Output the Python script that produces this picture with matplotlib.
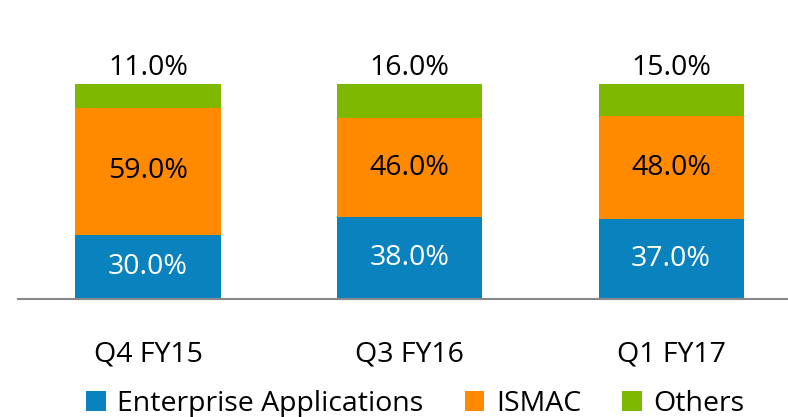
import matplotlib.pyplot as plt

plt.rcParams['font.family'] = ['Open Sans', 'DejaVu Sans']

quarters = ['Q4 FY15', 'Q3 FY16', 'Q1 FY17']
enterprise = [30.0, 38.0, 37.0]
ismac = [59.0, 46.0, 48.0]
others = [11.0, 16.0, 15.0]

blue = '#0a82be'
orange = '#ff8a00'
green = '#7fb800'

fig = plt.figure(figsize=(7.88, 4.17), dpi=100)
ax = fig.add_axes([18 / 788, 118 / 417, 770 / 788, 215 / 417])

x = range(len(quarters))
w = 0.555
b1 = ax.bar(x, enterprise, w, color=blue, label='Enterprise Applications')
b2 = ax.bar(x, ismac, w, bottom=enterprise, color=orange, label='ISMAC')
bottom3 = [a + b for a, b in zip(enterprise, ismac)]
b3 = ax.bar(x, others, w, bottom=bottom3, color=green, label='Others')

fs = 20.5
for i in x:
    ax.text(i, enterprise[i] / 2, f'{enterprise[i]:.1f}%', ha='center', va='center',
            color='white', fontsize=fs)
    ax.text(i, enterprise[i] + ismac[i] / 2, f'{ismac[i]:.1f}%', ha='center', va='center',
            color='black', fontsize=fs)
    ax.text(i, bottom3[i] + others[i] + 0.8, f'{others[i]:.1f}%', ha='center', va='bottom',
            color='black', fontsize=fs, clip_on=False)

ax.set_xlim(-0.497, 2.447)
ax.set_ylim(0, 100)
ax.set_xticks(list(x))
ax.set_xticklabels(quarters, fontsize=fs)
ax.tick_params(axis='x', length=0, pad=30)
ax.set_yticks([])
for s in ['top', 'right', 'left']:
    ax.spines[s].set_visible(False)
ax.spines['bottom'].set_color('#888888')
ax.spines['bottom'].set_linewidth(1.5)

fig.legend(handles=[b1, b2, b3], loc='center', bbox_to_anchor=(0.527, 0.032),
           ncol=3, frameon=False, fontsize=fs, handlelength=0.7, handleheight=0.7,
           handletextpad=0.4, columnspacing=1.45)

fig.savefig('out.png', dpi=100)
